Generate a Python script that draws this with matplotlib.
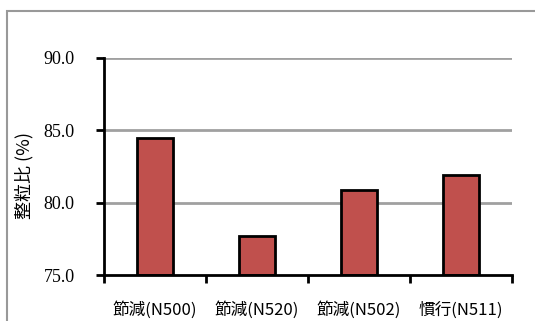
#!/usr/bin/env python3
import matplotlib
matplotlib.use("Agg")
import matplotlib.pyplot as plt
from matplotlib.patches import Rectangle

plt.rcParams['font.family'] = ['Noto Sans CJK JP', 'DejaVu Sans']

categories = ['節減(N500)', '節減(N520)', '節減(N502)', '慣行(N511)']
values = [84.5, 77.7, 80.9, 81.9]
yticks = [75.0, 80.0, 85.0, 90.0]

BAR_COLOR = '#c0504d'
GRID_COLOR = '#a0a0a0'

fig = plt.figure(figsize=(5.35, 3.21), dpi=100)
# outer chart frame (runs off right/bottom edges)
fig.patches.append(Rectangle((7 / 535, -0.1), 1.2, 1 - 11 / 321 + 0.1,
                             transform=fig.transFigure, fill=False,
                             edgecolor='#999999', linewidth=1.5))
ax = fig.add_axes([104 / 535, 1 - 275 / 321, 408 / 535, 217 / 321])

x = range(len(categories))
ax.bar(x, [v - 75 for v in values], bottom=75, width=0.35, color=BAR_COLOR,
       edgecolor='black', linewidth=2, zorder=3)

ax.set_xlim(-0.5, 3.5)
ax.set_ylim(75, 90)
ax.set_yticks(yticks)
ax.set_yticklabels(['%.1f' % t for t in yticks], family=['Liberation Serif'], fontsize=13)
ax.set_xticks([-0.5, 0.5, 1.5, 2.5, 3.5])
ax.set_xticklabels([])
ax.set_xticks(list(x), minor=True)
ax.set_xticklabels(categories, minor=True, fontsize=12)
ax.tick_params(axis='x', which='minor', length=0, pad=19)
ax.tick_params(axis='x', which='major', direction='out', length=6, width=2)
ax.tick_params(axis='y', direction='out', length=6, width=2, pad=15)

for v in yticks[1:]:
    ax.axhline(v, color=GRID_COLOR, linewidth=2, zorder=1)

for s in ['top', 'right']:
    ax.spines[s].set_visible(False)
for s in ['left', 'bottom']:
    ax.spines[s].set_linewidth(2)
    ax.spines[s].set_zorder(4)

ax.set_ylabel('整粒比 (%)', fontsize=13)
ax.yaxis.set_label_coords(-0.172, 0.46)

fig.savefig('out.png', dpi=100)
